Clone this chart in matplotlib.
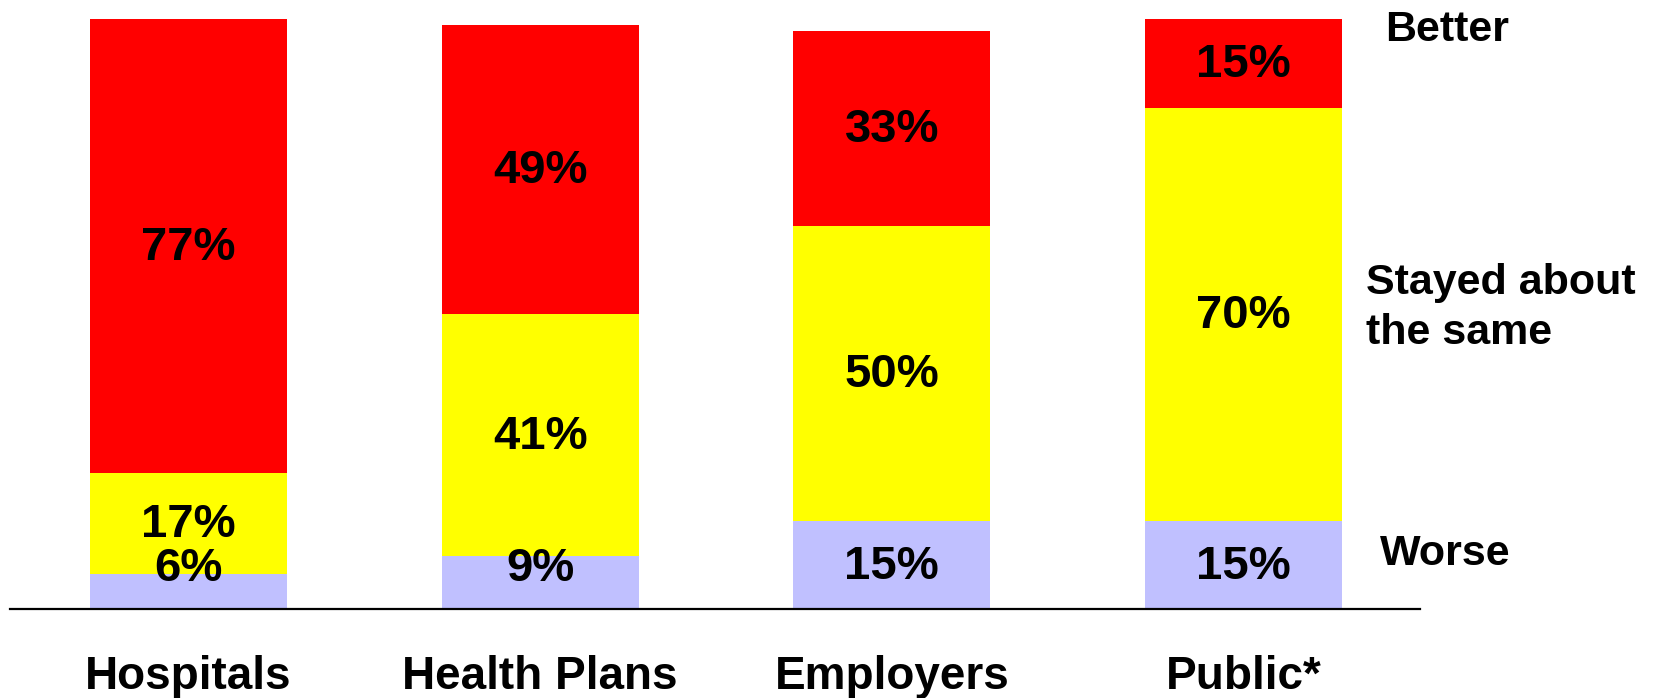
import matplotlib
matplotlib.use("Agg")
import matplotlib.pyplot as plt
import numpy as np

plt.rcParams['font.family'] = ['Liberation Sans', 'DejaVu Sans']

# survey groups and share of answers (percent)
groups = ["Hospitals", "Health Plans", "Employers", "Public*"]
worse = [6, 9, 15, 15]
same = [17, 41, 50, 70]
better = [77, 49, 33, 15]

answers = ["Worse", "Stayed about\nthe same", "Better"]
colors = ["#C0C0FF", "#FFFF00", "#FF0000"]

fig = plt.figure(figsize=(16.53, 6.98), dpi=100)
ax = fig.add_axes([10 / 1653, 89 / 698, 1410 / 1653, 590 / 698])

x = np.arange(len(groups))
bottom = np.zeros(len(groups))
for vals, col in zip([worse, same, better], colors):
    vals = np.array(vals, dtype=float)
    ax.bar(x, vals, bottom=bottom, width=0.56, color=col, edgecolor='none')
    for i in range(len(groups)):
        mid = bottom[i] + vals[i] / 2.0
        # small bottom segments get their label lifted a bit
        ypos = max(mid, 7.0)
        ax.text(x[i], ypos - 0.3, "%d%%" % vals[i], ha='center', va='center',
                fontsize=34, fontweight='bold', color='black')
    bottom += vals

ax.set_xlim(-0.5075, 3.502)
ax.set_ylim(0, 100)
ax.axhline(0, color='black', linewidth=1.6, clip_on=False)
ax.axis('off')

for i, g in enumerate(groups):
    ax.text(x[i], -13.6, g, ha='center', va='baseline', fontsize=33,
            fontweight='bold', clip_on=False)

# legend words on the right side
fig.text(1385 / 1653, 1 - 30 / 698, answers[2], ha='left', va='center',
         fontsize=31, fontweight='bold')
fig.text(1366 / 1653, 1 - 308 / 698, answers[1], ha='left', va='center',
         fontsize=31, fontweight='bold', linespacing=1.3)
fig.text(1380 / 1653, 1 - 554 / 698, answers[0], ha='left', va='center',
         fontsize=31, fontweight='bold')

fig.savefig("out.png", dpi=100)
